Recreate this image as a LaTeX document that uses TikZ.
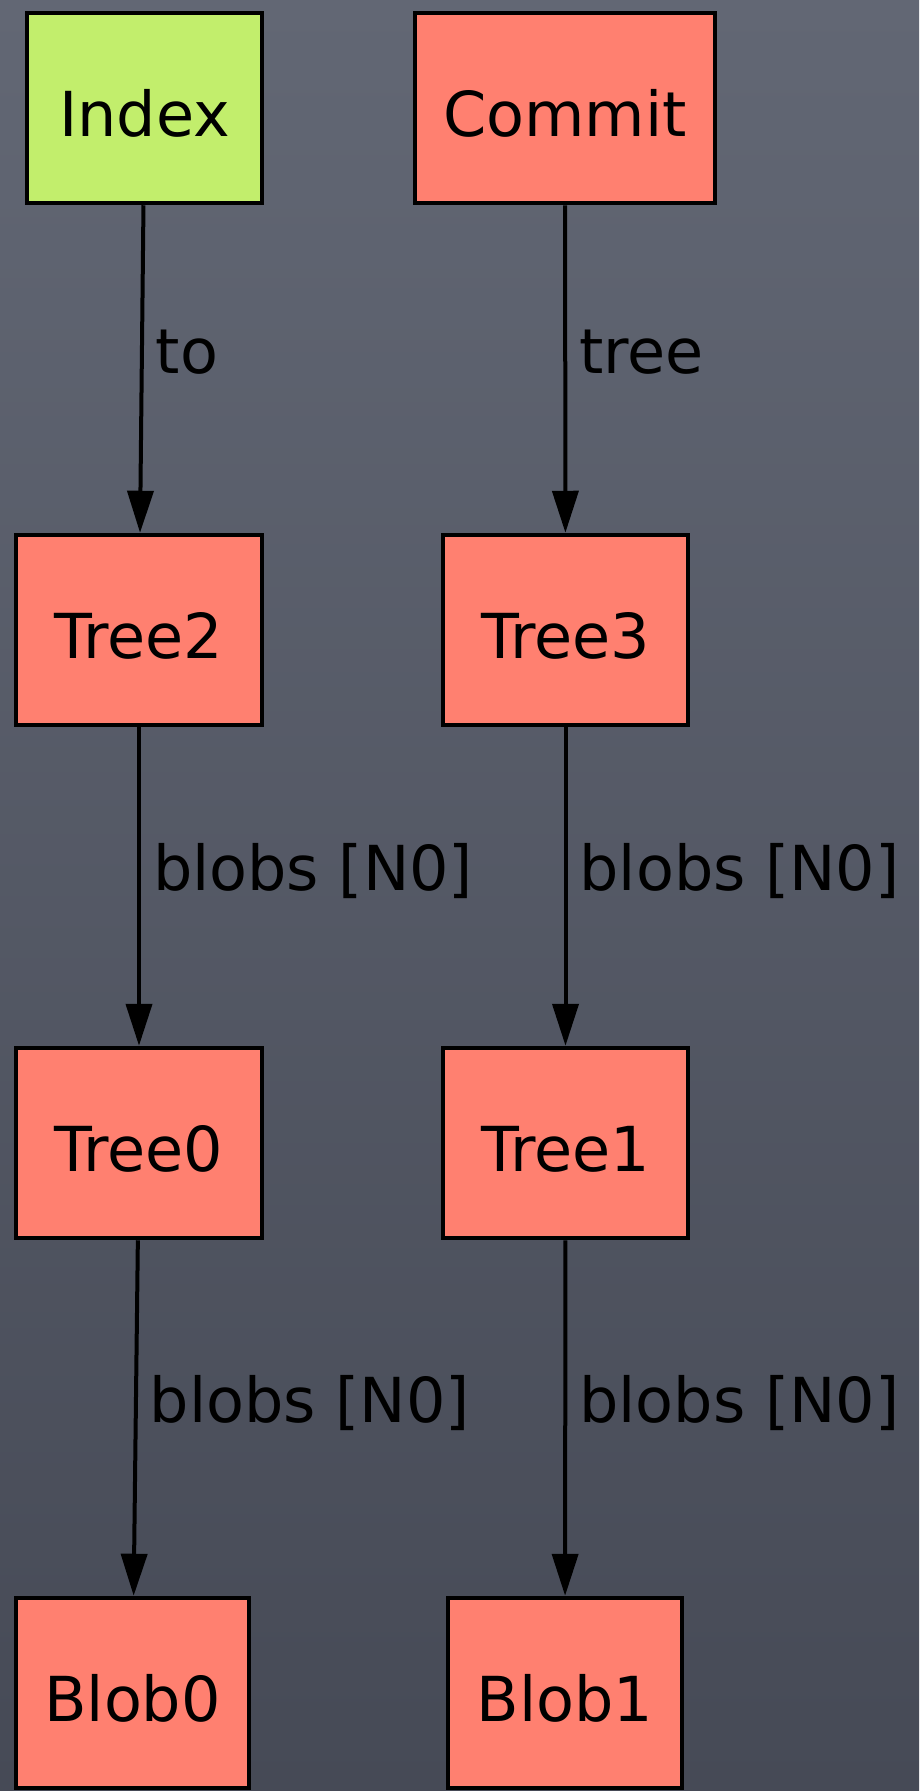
\documentclass[tikz,border=0pt]{standalone}
\usepackage{fontspec}
\setmainfont{DejaVu Sans}
\usetikzlibrary{arrows.meta}
\definecolor{slatetop}{RGB}{98,103,116}
\definecolor{slatebot}{RGB}{70,74,86}
\definecolor{salmon}{RGB}{255,128,112}
\definecolor{lime}{RGB}{194,238,108}
\tikzset{
  objbox/.style={draw=black, line width=4.5pt, fill=salmon, minimum height=190pt,
    inner sep=0pt, text height=57pt, text depth=0pt,
    font=\fontsize{62}{70}\selectfont},
  idxbox/.style={objbox, fill=lime},
  link/.style={draw=black, line width=4pt,
    -{Triangle[length=42pt, width=26pt]}},
  lbl/.style={anchor=base west, inner sep=0pt, xshift=12pt, yshift=-4pt,
    font=\fontsize{62}{70}\selectfont, text=black}
}
\begin{document}
\begin{tikzpicture}[x=1pt, y=-1pt]
  % slate backdrop
  \shade[top color=slatetop, bottom color=slatebot] (0,0) rectangle (919,1791);
  \useasboundingbox (0,0) rectangle (919,1791);

  % objects
  \node[idxbox, minimum width=235pt] (index)  at (144.5,108) {Index};
  \node[objbox, minimum width=300pt] (commit) at (565,108)   {Commit};
  \node[objbox, minimum width=246pt] (tree2)  at (139,630)   {Tree2};
  \node[objbox, minimum width=245pt] (tree3)  at (565.5,630) {Tree3};
  \node[objbox, minimum width=246pt] (tree0)  at (139,1143)  {Tree0};
  \node[objbox, minimum width=245pt] (tree1)  at (565.5,1143){Tree1};
  \node[objbox, minimum width=233pt] (blob0)  at (132.5,1693){Blob0};
  \node[objbox, minimum width=234pt] (blob1)  at (565,1693)  {Blob1};

  % references
  \draw[link] (index)  -- node[lbl, midway] {to}         (tree2);
  \draw[link] (commit) -- node[lbl, midway] {tree}       (tree3);
  \draw[link] (tree2)  -- node[lbl, midway] {blobs [N0]} (tree0);
  \draw[link] (tree3)  -- node[lbl, midway] {blobs [N0]} (tree1);
  \draw[link] (tree0)  -- node[lbl, midway] {blobs [N0]} (blob0);
  \draw[link] (tree1)  -- node[lbl, midway] {blobs [N0]} (blob1);
\end{tikzpicture}
\end{document}
